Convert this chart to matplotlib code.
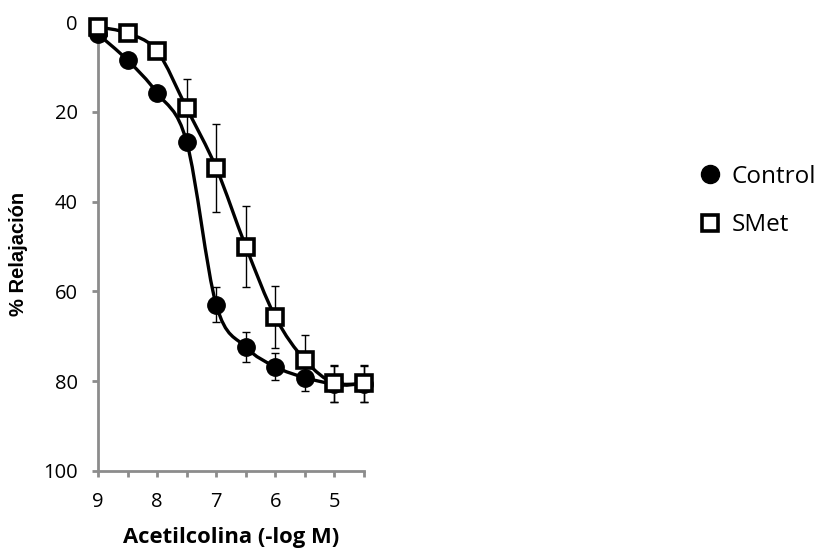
import numpy as np
import matplotlib
matplotlib.use("Agg")
import matplotlib.pyplot as plt
from matplotlib.path import Path
from matplotlib.patches import PathPatch
from matplotlib.lines import Line2D

x = [9, 8.5, 8, 7.5, 7, 6.5, 6, 5.5, 5, 4.5]
control = [2.7, 8.5, 15.8, 26.7, 63.0, 72.4, 76.8, 79.2, 80.6, 80.6]
control_err = [0.5, 0.8, 1.0, 1.5, 3.9, 3.3, 3.0, 3.0, 4.0, 4.0]
smet = [1.1, 2.5, 6.5, 19.2, 32.5, 50.0, 65.7, 75.3, 80.5, 80.5]
smet_err = [0.5, 0.8, 1.2, 6.5, 9.8, 9.0, 6.8, 5.5, 4.2, 4.2]

xticks = [9, 8.5, 8, 7.5, 7, 6.5, 6, 5.5, 5, 4.5]
xticklabels = ["9", "", "8", "", "7", "", "6", "", "5", ""]
yticks = [0, 20, 40, 60, 80, 100]

plt.rcParams['font.family'] = ['Open Sans', 'DejaVu Sans']

fig = plt.figure(figsize=(8.19, 5.52), dpi=100)
ax = fig.add_axes([98/819, 1-471/552, 266/819, 449/552])


def smooth_path(xs, ys):
    pts = np.column_stack([xs, ys]).astype(float)
    n = len(pts)
    verts = [pts[0]]
    codes = [Path.MOVETO]
    for i in range(n - 1):
        p0 = pts[i - 1] if i > 0 else pts[i]
        p1 = pts[i]
        p2 = pts[i + 1]
        p3 = pts[i + 2] if i + 2 < n else pts[i + 1]
        c1 = p1 + (p2 - p0) / 6.0
        c2 = p2 - (p3 - p1) / 6.0
        verts += [c1, c2, p2]
        codes += [Path.CURVE4] * 3
    return Path(verts, codes)


for ys in (control, smet):
    p = PathPatch(smooth_path(x, ys), transform=ax.transData,
                  facecolor='none', edgecolor='black', lw=2.4, zorder=2)
    p.set_clip_on(False)
    ax.add_patch(p)

for ys, es in ((control, control_err), (smet, smet_err)):
    eb = ax.errorbar(x, ys, yerr=es, fmt='none', ecolor='black',
                     elinewidth=1, capsize=3, capthick=1, zorder=3)
    for art in list(eb.lines[1]) + list(eb.lines[2]):
        art.set_clip_on(False)
ax.plot(x, control, 'o', color='black', ms=12.5, zorder=4, clip_on=False)
ax.plot(x, smet, 's', mfc='white', mec='black', mew=2.6, ms=11, zorder=5,
        clip_on=False)

ax.set_xlim(9, 4.5)
ax.set_ylim(100, 0)
ax.set_xticks(xticks)
ax.set_xticklabels(xticklabels)
ax.set_yticks(yticks)
for s in ('top', 'right'):
    ax.spines[s].set_visible(False)
for s in ('left', 'bottom'):
    ax.spines[s].set_color('#8c8c8c')
    ax.spines[s].set_linewidth(2)
    ax.spines[s].set_zorder(1)
ax.tick_params(axis='both', direction='out', length=4.5, width=2,
               color='#8c8c8c', labelsize=14.5, labelcolor='black')
ax.tick_params(axis='x', pad=10.5)
ax.tick_params(axis='y', pad=10)

fig.text(231/819, 1-538/552, "Acetilcolina (-log M)", fontsize=15.8,
         fontweight='bold', ha='center', va='center')
fig.text(19/819, 1-254/552, "% Relajación", fontsize=14.5,
         fontweight='bold', family=['Liberation Sans', 'DejaVu Sans'],
         rotation=90, ha='center', va='center')

handles = [
    Line2D([], [], marker='o', ls='none', color='black', ms=13),
    Line2D([], [], marker='s', ls='none', mfc='white', mec='black', mew=2.6,
           ms=11.5),
]
fig.legend(handles, ["Control", "SMet"], loc='center left',
           bbox_to_anchor=(688/819, 1-201/552), frameon=False, fontsize=17.5,
           labelspacing=1.0, handletextpad=0.4, handlelength=1.0,
           borderaxespad=0)

fig.savefig("out.png", dpi=100)
